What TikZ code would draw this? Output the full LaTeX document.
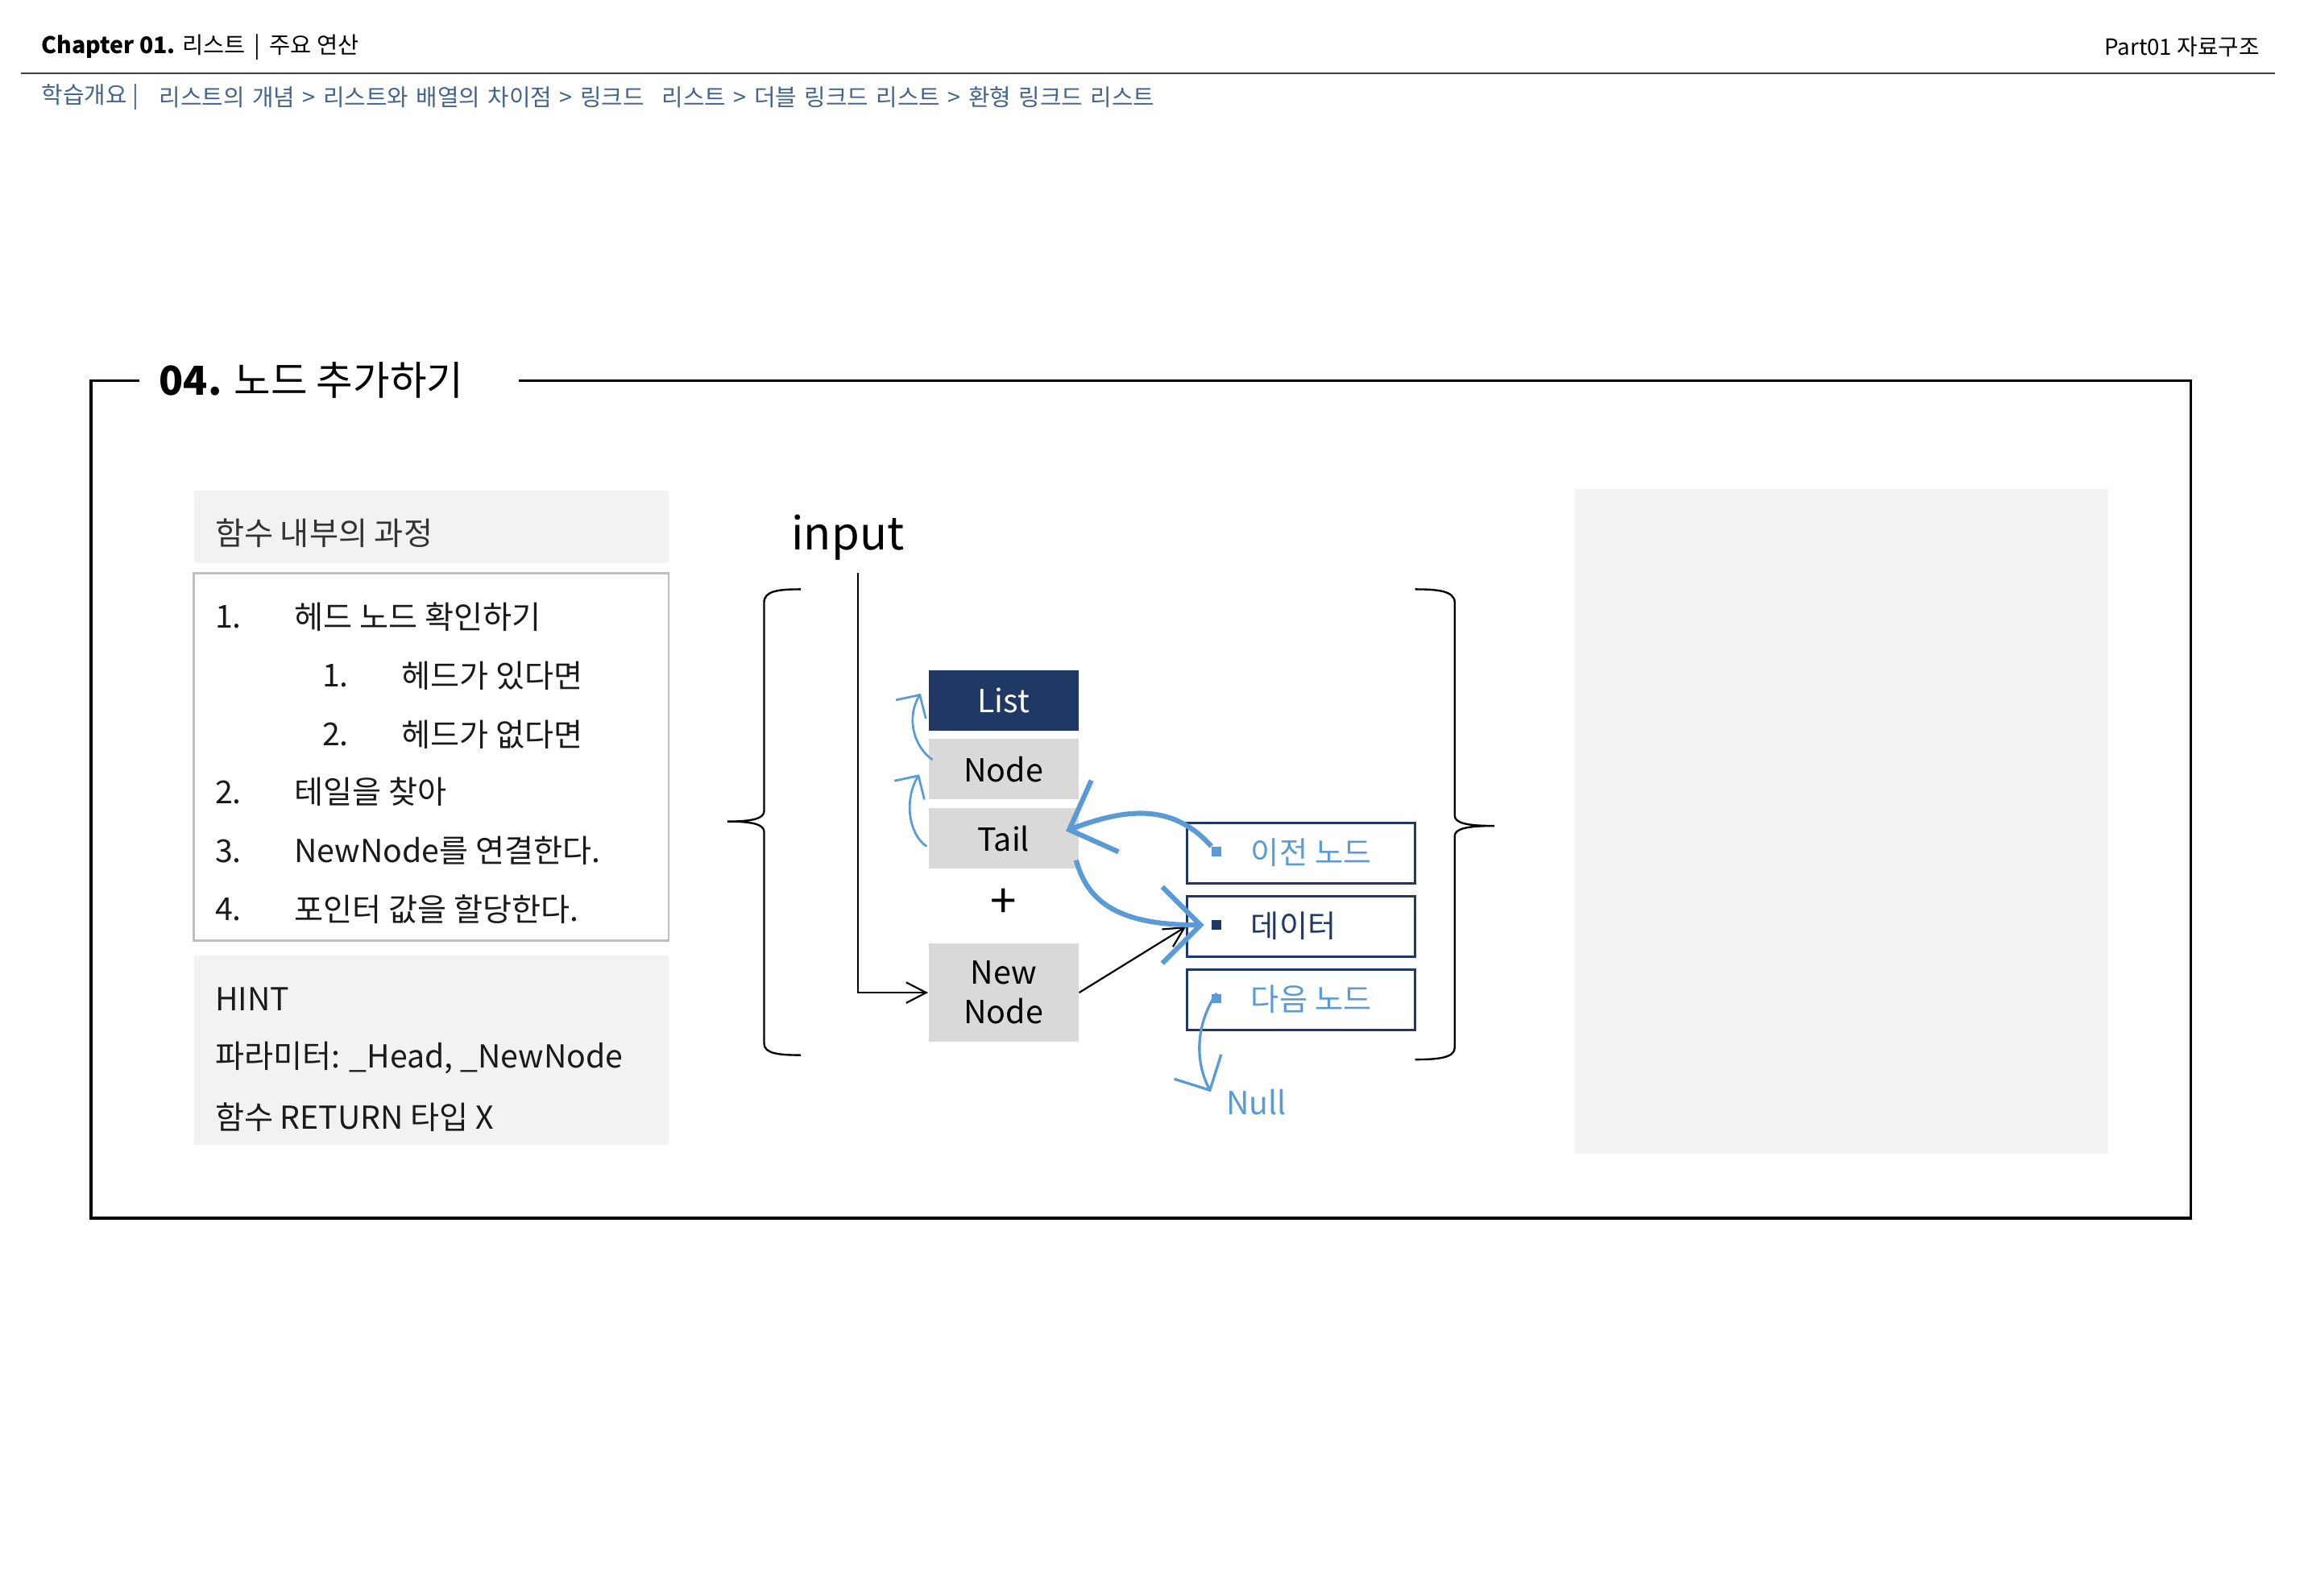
\documentclass[tikz,border=0pt]{standalone}
\usepackage{fontspec}
\setmainfont{Noto Sans CJK KR}
\usetikzlibrary{arrows.meta}
\definecolor{navy}{HTML}{203864}
\definecolor{lblue}{HTML}{5B9BD5}
\definecolor{crumb}{HTML}{44648C}
\definecolor{panelg}{HTML}{F2F2F2}
\definecolor{cellg}{HTML}{D9D9D9}
\definecolor{rimg}{HTML}{BFBFBF}
\definecolor{inkc}{HTML}{1A1A1A}
\definecolor{rulec}{HTML}{3F3F3F}
\newcommand\fsz[1]{\fontsize{#1}{#1}\selectfont}
\tikzset{
  txt/.style={anchor=west, inner sep=0pt},
  cellbox/.style={minimum width=51pt, minimum height=20.5pt, inner sep=0pt, fill=cellg, font=\fsz{10.8}, text=black},
  fieldbox/.style={draw=navy, line width=0.8pt, minimum width=77.5pt, minimum height=20.5pt, inner sep=0pt},
  bul/.style={fill=#1, minimum size=3.2pt, inner sep=0pt},
  thinarrow/.style={draw=black, line width=0.6pt, -{Straight Barb[length=6.8pt,width=7pt]}},
  smallblue/.style={draw=lblue, line width=0.75pt, -{Straight Barb[length=5.8pt,width=12pt]}},
  bigblue/.style={draw=lblue, line width=1.7pt, -{Straight Barb[length=13pt,width=26pt]}},
  nullblue/.style={draw=lblue, line width=0.9pt, -{Straight Barb[length=9pt,width=18pt]}},
  bracec/.style={draw=black, line width=0.65pt},
  listtxt/.style={txt, font=\fsz{10.75}, text=inkc},
}
\begin{document}
\begin{tikzpicture}[x=0.5pt,y=-0.5pt]
\useasboundingbox (0,0) rectangle (1568,1086);
\fill[white] (0,0) rectangle (1568,1086);

% header
\node[txt, font=\fsz{7.8}, text=black] (hdr) at (28,32) {\textbf{Chapter 01.} 리스트\hspace{3pt}|\hspace{3pt}주요 연산};
\node[anchor=east, inner sep=0pt, font=\fsz{7.6}, text=black] (part) at (1538,32) {Part01 자료구조};
\draw[rulec, line width=0.7pt] (14,50) -- (1548,50);
\node[txt, font=\fsz{7.9}, text=crumb] (crumbA) at (28,66) {학습개요 |};
\node[txt, font=\fsz{7.9}, text=crumb] (crumbB) at (108,66) {\spaceskip=2.6pt 리스트의 개념 > 리스트와 배열의 차이점 > 링크드\hspace{6pt}리스트 > 더블 링크드 리스트 > 환형 링크드 리스트};

% frame and title
\draw[line width=1pt] (95,259) -- (62,259) -- (62,829) -- (1491,829) -- (1491,259) -- (353,259);
\node[txt, font=\fsz{13.6}, text=black] (title) at (108,259) {\textbf{04.} 노드 추가하기};

% left panel
\node[fill=panelg, minimum width=161.5pt, minimum height=24.5pt, inner sep=0pt] (procHead) at (293.5,358.5) {};
\node[listtxt, text=black!80] (procTitle) at (146,363) {함수 내부의 과정};
\node[draw=rimg, line width=0.75pt, minimum width=161.5pt, minimum height=125pt, inner sep=0pt] (procBox) at (293.5,515) {};
\node[listtxt] (n1) at (146,420) {1.};
\node[listtxt] (s1) at (200,420) {헤드 노드 확인하기};
\node[listtxt] (n11) at (219,460) {1.};
\node[listtxt] (s11) at (273,460) {헤드가 있다면};
\node[listtxt] (n12) at (219,500) {2.};
\node[listtxt] (s12) at (273,500) {헤드가 없다면};
\node[listtxt] (n2) at (146,539) {2.};
\node[listtxt] (s2) at (200,539) {테일을 찾아};
\node[listtxt] (n3) at (146,579) {3.};
\node[listtxt] (s3) at (200,579) {NewNode를 연결한다.};
\node[listtxt] (n4) at (146,619) {4.};
\node[listtxt] (s4) at (200,619) {포인터 값을 할당한다.};
\node[fill=panelg, minimum width=161.5pt, minimum height=64.5pt, inner sep=0pt] (hintBox) at (293.5,714.5) {};
\node[listtxt] (h1) at (146,680) {HINT};
\node[listtxt] (h2) at (146,720) {파라미터: \_Head, \_NewNode};
\node[listtxt] (h3) at (146,760) {함수 RETURN 타입 X};

% right panel
\node[fill=panelg, minimum width=181.5pt, minimum height=226pt, inner sep=0pt] (rightPanel) at (1253.5,559) {};

% middle diagram
\node[inner sep=0pt, font=\fsz{15.4}, text=black] (input) at (577,366) {input};
\draw[bracec] (545,401) .. controls (530,401) and (520,402) .. (520,410) -- (520,552) .. controls (520,557) and (512,559) .. (495,559) .. controls (512,559) and (520,561) .. (520,566) -- (520,710) .. controls (520,717) and (530,718) .. (545,718);
\draw[bracec] (963,401) .. controls (978,401) and (990,402) .. (990,410) -- (990,555) .. controls (990,560) and (998,562) .. (1017,562) .. controls (998,562) and (990,564) .. (990,569) -- (990,713) .. controls (990,720) and (978,721) .. (963,721);

\node[cellbox, fill=navy, text=white] (List) at (683,476.5) {List};
\node[cellbox] (Node) at (683,523.5) {Node};
\node[cellbox] (Tail) at (683,570.5) {Tail};
\node[inner sep=0pt, font=\fsz{16}, text=black] (plus) at (683,615) {+};
\node[cellbox, minimum height=33.5pt, align=center, font=\fontsize{10.8}{13.5}\selectfont] (NewNode) at (683,675.5) {New\\Node};

\node[fieldbox] (prev) at (885.5,580.5) {};
\node[fieldbox] (data) at (885.5,630.5) {};
\node[fieldbox] (next) at (885.5,680.5) {};
\node[bul=lblue] (b1) at (828,579.5) {};
\node[bul=navy] (b2) at (828,629.5) {};
\node[bul=lblue] (b3) at (828,679.5) {};
\node[txt, font=\fsz{10.5}, text=lblue] (t1) at (851,580) {이전 노드};
\node[txt, font=\fsz{10.5}, text=navy] (t2) at (851,630) {데이터};
\node[txt, font=\fsz{10.5}, text=lblue] (t3) at (851,680) {다음 노드};
\node[inner sep=0pt, font=\fsz{10.8}, text=lblue] (null) at (855,750) {Null};
\coordinate (nullend) at (824,743);

% connectors
\coordinate (inTop) at (584,390);
\draw[thinarrow] (inTop) |- (NewNode.west);
\draw[thinarrow] (NewNode.east) -- (data.west);
\draw[smallblue] ([xshift=1.5pt,yshift=3.25pt]Node.west) .. controls +(-13,-9) and +(-10,16) .. ([xshift=-2.5pt,yshift=2.25pt]List.west);
\draw[smallblue] ([xshift=-0.5pt,yshift=-2.75pt]Tail.west) .. controls +(-13,-9) and +(-10,16) .. ([xshift=-3pt,yshift=-1.75pt]Node.west);
\draw[bigblue] (b1.north west) .. controls +(-26,-29) and +(42,-16) .. ([xshift=-4.5pt,yshift=2.5pt]Tail.east);
\draw[bigblue] ([xshift=-1pt,yshift=3pt]Tail.south east) .. controls +(8,30) and +(-56,0) .. ([xshift=-2.5pt]b2.west);
\draw[nullblue] (b3.north) .. controls +(-13,19) and +(-12,-23) .. (nullend);
\end{tikzpicture}
\end{document}
